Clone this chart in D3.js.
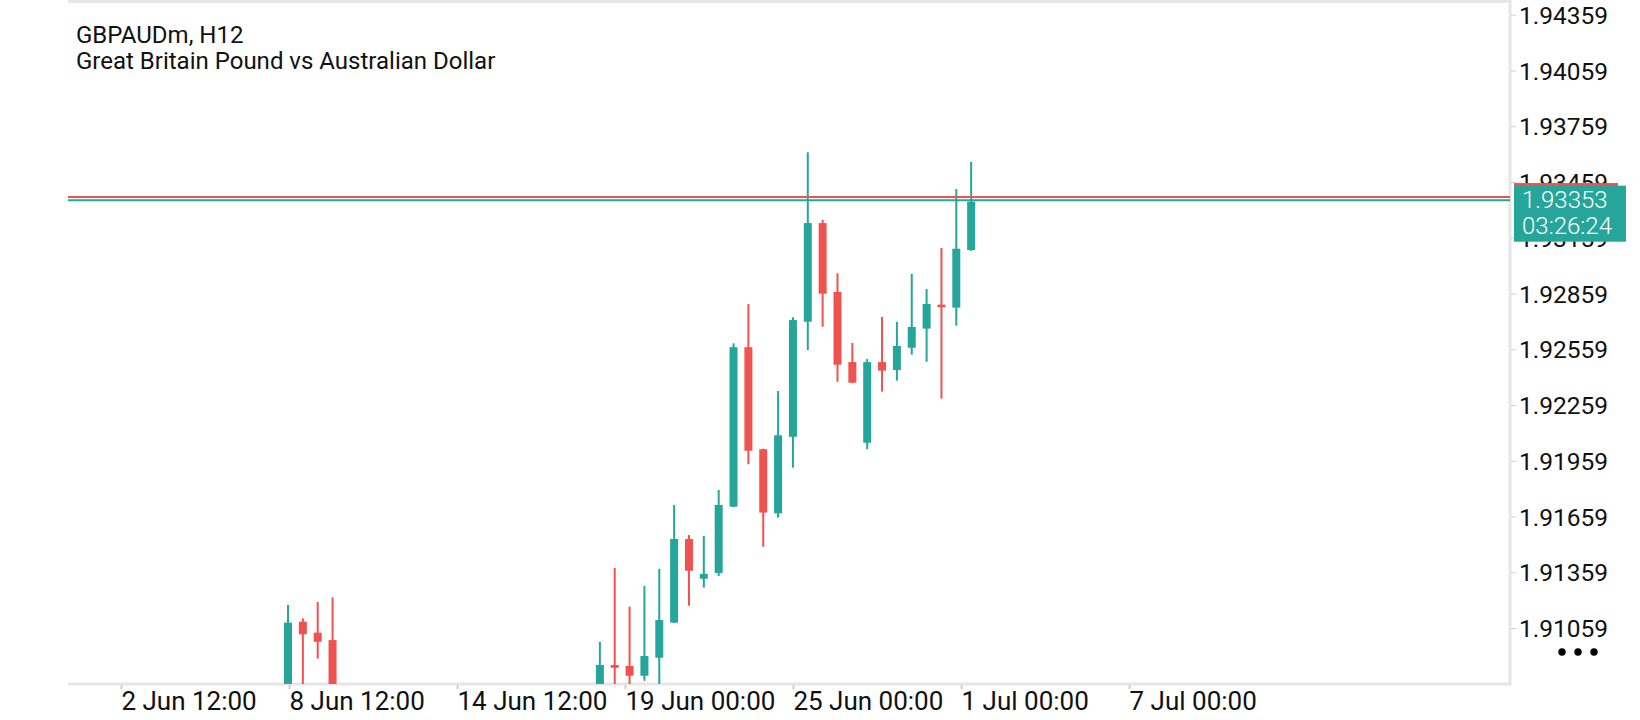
<!DOCTYPE html>
<html>
<head>
<meta charset="utf-8">
<script src="https://cdn.jsdelivr.net/npm/d3@7"></script>
<style>
  body { margin: 0; background: #fff; }
  text { font-family: Roboto, "Noto Sans", sans-serif; }
</style>
</head>
<body>
<div id="chart"></div>
<script>
// bar position (index on the time axis) and OHLC
const barIndex = [0, 1, 2, 3, 21, 22, 23, 24, 25, 26, 27, 28, 29, 30, 31, 32, 33, 34, 35, 36, 37, 38, 39, 40, 41, 42, 43, 44, 45, 46];
const opens  = [1.90672, 1.91093, 1.91034, 1.90994, 1.90672, 1.90860, 1.90855, 1.90802, 1.90899, 1.91088, 1.91538, 1.91324, 1.91355, 1.91712, 1.92570, 1.92021, 1.91676, 1.92088, 1.92707, 1.93238, 1.92867, 1.92490, 1.92056, 1.92490, 1.92447, 1.92567, 1.92670, 1.92799, 1.92783, 1.93093];
const highs  = [1.91183, 1.91111, 1.91199, 1.91224, 1.90984, 1.91382, 1.91174, 1.91285, 1.91377, 1.91721, 1.91559, 1.91554, 1.91802, 1.92591, 1.92802, 1.92024, 1.92334, 1.92731, 1.93619, 1.93255, 1.92968, 1.92593, 1.92507, 1.92733, 1.92706, 1.92964, 1.92883, 1.93104, 1.93421, 1.93567];
const lows   = [1.90640, 1.90564, 1.90894, 1.90483, 1.90618, 1.90564, 1.90672, 1.90775, 1.90698, 1.91086, 1.91179, 1.91276, 1.91339, 1.91710, 1.91940, 1.91496, 1.91653, 1.91922, 1.92555, 1.92680, 1.92384, 1.92377, 1.92021, 1.92331, 1.92390, 1.92530, 1.92492, 1.92293, 1.92686, 1.93088];
const closes = [1.91088, 1.91025, 1.90985, 1.90564, 1.90860, 1.90845, 1.90802, 1.90908, 1.91102, 1.91538, 1.91367, 1.91350, 1.91721, 1.92570, 1.92013, 1.91680, 1.92096, 1.92716, 1.93238, 1.92858, 1.92476, 1.92379, 1.92490, 1.92444, 1.92577, 1.92679, 1.92803, 1.92785, 1.93100, 1.93353];

const priceTicks = [1.94359, 1.94059, 1.93759, 1.93459, 1.93159, 1.92859, 1.92559, 1.92259, 1.91959, 1.91659, 1.91359, 1.91059];
const timeTickIndex = [-11.25, 0.07, 11.38, 22.69, 34.0, 45.32, 56.63];
const timeTickLabels = ["2 Jun 12:00", "8 Jun 12:00", "14 Jun 12:00", "19 Jun 00:00", "25 Jun 00:00", "1 Jul 00:00", "7 Jul 00:00"];

const bid = 1.93353;
const ask = 1.93378;
const timer = "03:26:24";
const symbol = "GBPAUDm, H12";
const description = "Great Britain Pound vs Australian Dollar";

const width = 1640, height = 720;
const plot = { left: 68, right: 1510, top: 3, bottom: 684 };
const up = "#26a69a", down = "#ef5350", frame = "#e6e6e6";

const svg = d3.select("#chart").append("svg")
    .attr("width", width)
    .attr("height", height);

const x = d3.scaleLinear().domain([0, 45]).range([288, 956.3]);
const y = d3.scaleLinear().domain([1.91059, 1.94359]).range([628, 14.75]);

svg.append("clipPath").attr("id", "plotclip")
  .append("rect")
    .attr("x", plot.left).attr("y", plot.top)
    .attr("width", plot.right - plot.left).attr("height", plot.bottom - plot.top);

// frame: top, right, bottom
svg.append("line").attr("x1", plot.left).attr("x2", plot.right).attr("y1", 1.5).attr("y2", 1.5)
    .attr("stroke", frame).attr("stroke-width", 3);
svg.append("line").attr("x1", plot.right).attr("x2", plot.right).attr("y1", 0).attr("y2", plot.bottom + 1.5)
    .attr("stroke", frame).attr("stroke-width", 3);
svg.append("line").attr("x1", plot.left).attr("x2", plot.right + 1.5).attr("y1", plot.bottom).attr("y2", plot.bottom)
    .attr("stroke", frame).attr("stroke-width", 3);

// title
svg.append("text").attr("x", 76).attr("y", 43)
    .attr("font-size", 24).attr("fill", "#111").text(symbol);
svg.append("text").attr("x", 76).attr("y", 69)
    .attr("font-size", 24).attr("fill", "#111").text(description);

// candles
const candles = barIndex.map((b, i) => ({ b, o: opens[i], h: highs[i], l: lows[i], c: closes[i] }));
const g = svg.append("g").attr("clip-path", "url(#plotclip)");

const cg = g.selectAll(".candle").data(candles).enter().append("g")
    .attr("class", "candle");

cg.append("rect")
    .attr("x", d => x(d.b) - 1)
    .attr("y", d => y(d.h))
    .attr("width", 2)
    .attr("height", d => y(d.l) - y(d.h))
    .attr("fill", d => d.c >= d.o ? up : down);

cg.append("rect")
    .attr("x", d => x(d.b) - 4)
    .attr("y", d => y(Math.max(d.o, d.c)))
    .attr("width", 8)
    .attr("height", d => Math.max(2.5, Math.abs(y(d.o) - y(d.c))))
    .attr("fill", d => d.c >= d.o ? up : down);

// bid / ask lines
g.append("line").attr("x1", plot.left).attr("x2", plot.right)
    .attr("y1", y(ask)).attr("y2", y(ask))
    .attr("stroke", down).attr("stroke-width", 2);
g.append("line").attr("x1", plot.left).attr("x2", plot.right)
    .attr("y1", y(bid) - 1.5).attr("y2", y(bid) - 1.5)
    .attr("stroke", up).attr("stroke-width", 2);

// price axis
const yAxis = svg.append("g")
    .attr("transform", `translate(${plot.right + 1},0)`)
    .call(d3.axisRight(y).tickValues(priceTicks).tickFormat(d3.format(".5f")).tickSize(5).tickPadding(3));
yAxis.select(".domain").remove();
yAxis.selectAll(".tick line").attr("stroke", "#d0d0d0");
yAxis.selectAll(".tick text")
    .attr("font-family", "Roboto, sans-serif")
    .attr("font-size", 24.5)
    .attr("fill", "#111")
    .attr("dy", "0.35em");

// time axis
const xAxis = svg.append("g")
    .attr("transform", `translate(0,${plot.bottom + 1})`)
    .call(d3.axisBottom(x).tickValues(timeTickIndex)
        .tickFormat((d, i) => timeTickLabels[i]).tickSize(4).tickPadding(0));
xAxis.select(".domain").remove();
xAxis.selectAll(".tick line").attr("stroke", "#d0d0d0").attr("stroke-width", 2);
xAxis.selectAll(".tick text")
    .attr("font-family", "Roboto, sans-serif")
    .attr("font-size", 26)
    .attr("fill", "#111")
    .attr("text-anchor", "start")
    .attr("x", 0)
    .attr("y", 0)
    .attr("dy", 25);

// current price labels (ask behind, bid in front)
svg.append("rect")
    .attr("x", 1514).attr("y", y(ask) - 14)
    .attr("width", 104).attr("height", 56)
    .attr("fill", down);
svg.append("rect")
    .attr("x", 1514).attr("y", y(bid) - 16)
    .attr("width", 112).attr("height", 56)
    .attr("fill", up);
svg.append("text").attr("x", 1522).attr("y", y(bid) + 6)
    .attr("font-size", 24).attr("font-weight", 300).attr("fill", "#fff").text(d3.format(".5f")(bid));
svg.append("text").attr("x", 1522).attr("y", y(bid) + 32)
    .attr("font-size", 24).attr("font-weight", 300).attr("fill", "#fff").text(timer);

// menu dots
svg.selectAll(".dot").data([0, 1, 2]).enter().append("circle")
    .attr("class", "dot")
    .attr("cx", d => 1562 + d * 16)
    .attr("cy", 652)
    .attr("r", 3.7)
    .attr("fill", "#000");
</script>
</body>
</html>
